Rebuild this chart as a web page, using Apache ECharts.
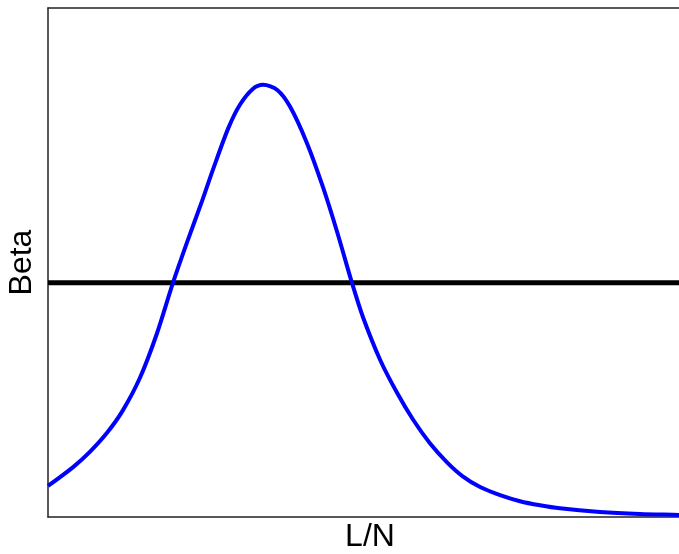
<!DOCTYPE html>
<html>
<head>
<meta charset="utf-8">
<script src="https://cdn.jsdelivr.net/npm/echarts@6/dist/echarts.min.js"></script>
<style>html,body{margin:0;padding:0;background:#fff;}#c{width:679px;height:554px;}</style>
</head>
<body>
<div id="c"></div>
<script>
const xLabel = 'L/N';
const yLabel = 'Beta';
const curveX = [0, 0.039, 0.065, 0.092, 0.116, 0.143, 0.169, 0.194, 0.216, 0.239, 0.256, 0.280, 0.298, 0.318, 0.334, 0.356, 0.376, 0.402, 0.427, 0.449, 0.472, 0.489, 0.516, 0.542, 0.567, 0.593, 0.620, 0.644, 0.671, 0.702, 0.733, 0.764, 0.795, 0.857, 0.919, 0.980, 1.0];
const curveY = [0.061, 0.098, 0.128, 0.166, 0.209, 0.274, 0.360, 0.460, 0.540, 0.620, 0.682, 0.764, 0.810, 0.841, 0.849, 0.839, 0.806, 0.735, 0.648, 0.560, 0.460, 0.393, 0.308, 0.244, 0.191, 0.145, 0.107, 0.080, 0.059, 0.043, 0.031, 0.023, 0.017, 0.010, 0.006, 0.004, 0.003];
const refLevel = 0.46;

const curve = curveX.map((x, i) => [x, curveY[i]]);
const frameLine = {show: true, lineStyle: {color: '#222', width: 1.5}};
const chart = echarts.init(document.getElementById('c'), null, {renderer: 'canvas'});
chart.setOption({
  animation: false,
  backgroundColor: '#fff',
  grid: {left: 48, top: 8, right: -13, bottom: 37, outerBoundsMode: 'none', containLabel: false, show: false},
  xAxis: [{
    type: 'value', min: 0, max: 1, position: 'bottom',
    name: xLabel, nameLocation: 'middle', nameGap: 4,
    nameTextStyle: {fontFamily: 'Liberation Sans', fontSize: 32, color: '#000', verticalAlign: 'top'},
    axisLine: frameLine, axisTick: {show: false}, axisLabel: {show: false}, splitLine: {show: false}
  }, {
    type: 'value', min: 0, max: 1, position: 'top',
    axisLine: frameLine, axisTick: {show: false}, axisLabel: {show: false}, splitLine: {show: false}
  }],
  yAxis: {
    type: 'value', min: 0, max: 1,
    name: yLabel, nameLocation: 'middle', nameGap: 10,
    nameTextStyle: {fontFamily: 'Liberation Sans', fontSize: 32, color: '#000'},
    axisLine: frameLine, axisTick: {show: false}, axisLabel: {show: false}, splitLine: {show: false}
  },
  series: [
    {type: 'line', data: [[0, refLevel], [1, refLevel]], symbol: 'none', lineStyle: {color: '#000', width: 5}, z: 2},
    {type: 'line', data: curve, smooth: 0.3, symbol: 'none', lineStyle: {color: '#0000ff', width: 4}, z: 3}
  ]
});
</script>
</body>
</html>
